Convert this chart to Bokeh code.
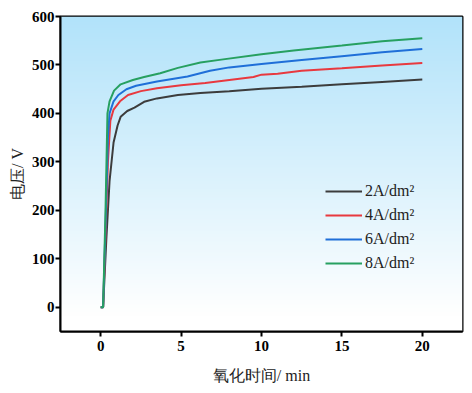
import numpy as np
from bokeh.plotting import figure
from bokeh.models import Range1d, Legend, LegendItem, FixedTicker
from bokeh.embed import file_html
from bokeh.resources import INLINE

# ---- data ----
x_2A = [0, 0.15, 0.35, 0.55, 0.8, 1.05, 1.24, 1.65, 2.1, 2.7, 3.5, 4.8, 6.2, 8, 10, 12.5, 15, 17.5, 20]
y_2A = [0, 0, 140, 260, 340, 375, 393, 405, 412, 424, 431, 438, 442, 446, 451, 455, 460, 465, 470]

x_4A = [0, 0.15, 0.3, 0.45, 0.6, 0.8, 1.2, 1.7, 2.5, 3.5, 5, 6.5, 8, 9.5, 10, 11, 12.5, 15, 17.5, 20]
y_4A = [0, 0, 150, 300, 385, 408, 425, 438, 446, 452, 458, 463, 469, 475, 480, 482, 488, 493, 499, 504]

x_6A = [0, 0.15, 0.3, 0.45, 0.55, 0.8, 1.1, 1.6, 2.2, 3.5, 5.4, 6.8, 8, 10, 12.5, 15, 17.5, 20]
y_6A = [0, 0, 170, 350, 400, 425, 438, 450, 457, 466, 476, 488, 495, 502, 510, 518, 526, 533]

x_8A = [0, 0.15, 0.3, 0.42, 0.55, 0.83, 1.24, 2, 2.7, 3.7, 4.8, 6.2, 7.5, 10, 12, 15, 17.5, 20]
y_8A = [0, 0, 200, 400, 425, 447, 460, 469, 475, 483, 494, 505, 511, 522, 530, 540, 549, 555]

labels = ["2A/dm\u00b2", "4A/dm\u00b2", "6A/dm\u00b2", "8A/dm\u00b2"]
colors = ["#3c3c3c", "#e8393f", "#1f6fd8", "#27a060"]
x_ticks = [0, 5, 10, 15, 20]
y_ticks = [0, 100, 200, 300, 400, 500, 600]

X0, X1, Y0, Y1 = -2.5, 22.5, -50, 600
SERIF = "Liberation Serif"

p = figure(output_backend="svg", toolbar_location=None,
           frame_width=402, frame_height=315,
           min_border_left=60, min_border_top=16, min_border_right=6, min_border_bottom=40,
           x_range=Range1d(X0, X1), y_range=Range1d(Y0, Y1))
p.background_fill_color = "white"
p.border_fill_color = "white"
p.grid.visible = False
p.outline_line_color = "black"
p.outline_line_width = 2

# background gradient (light blue top -> white bottom)
N = 200
t = np.linspace(0, 1, N)
f = np.clip((t - 0.05) / 0.95, 0, 1)
top = np.array([178, 227, 250])
img = np.zeros((N, 1), dtype=np.uint32)
view = img.view(dtype=np.uint8).reshape((N, 1, 4))
for k in range(3):
    view[:, 0, k] = (255 + (top[k] - 255) * f).astype(np.uint8)
view[:, 0, 3] = 255
p.image_rgba(image=[img], x=X0, y=Y0, dw=X1 - X0, dh=Y1 - Y0)

series = [(x_2A, y_2A), (x_4A, y_4A), (x_6A, y_6A), (x_8A, y_8A)]
items = []
for (xs, ys), lab, c in zip(series, labels, colors):
    r_ = p.line(xs, ys, line_color=c, line_width=2)
    items.append(LegendItem(label=lab, renderers=[r_]))

legend = Legend(items=items, location=(265, 56), orientation="vertical",
                background_fill_alpha=0, border_line_alpha=0,
                padding=0, margin=0, spacing=0,
                glyph_width=37, glyph_height=24, label_height=24,
                label_standoff=3,
                label_text_font=SERIF, label_text_font_size="16px",
                label_text_color="#222222")
p.add_layout(legend)

for ax in (p.xaxis, p.yaxis):
    ax.axis_line_color = "black"
    ax.axis_line_width = 2
    ax.major_tick_line_color = "black"
    ax.major_tick_line_width = 2
    ax.major_tick_out = 5
    ax.major_tick_in = 0
    ax.minor_tick_line_color = None
    ax.major_label_text_font = SERIF
    ax.major_label_text_font_style = "bold"
    ax.major_label_text_font_size = "15px"
    ax.major_label_text_color = "black"
    ax.axis_label_text_font = SERIF
    ax.axis_label_text_font_style = "normal"
    ax.axis_label_text_font_size = "16px"
    ax.axis_label_text_color = "#222222"

p.xaxis.ticker = FixedTicker(ticks=x_ticks)
p.yaxis.ticker = FixedTicker(ticks=y_ticks)
p.xaxis.axis_label = "氧化时间/ min"
p.yaxis.axis_label = "电压/ V"
p.xaxis.major_label_standoff = 4
p.yaxis.major_label_standoff = 1
p.xaxis.axis_label_standoff = 13
p.yaxis.axis_label_standoff = 3

open("out.html", "w").write(file_html(p, INLINE))
